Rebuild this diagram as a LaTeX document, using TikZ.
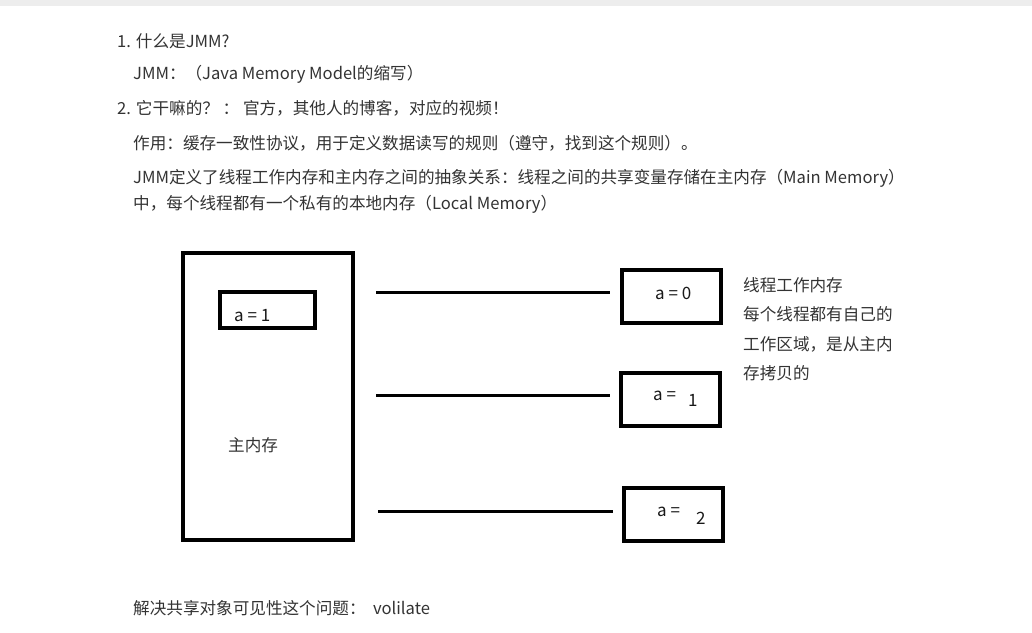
\documentclass[tikz,border=0pt]{standalone}
\usepackage{fontspec}
\setmainfont{Noto Sans CJK SC}
\definecolor{txt}{HTML}{333333}
\definecolor{barbg}{HTML}{EDEDED}
\begin{document}
\begin{tikzpicture}[x=1pt,y=-1pt,
  line/.style={anchor=west,inner sep=0pt,text=txt,font=\fontsize{16.6}{19}\selectfont},
  boxstyle/.style={draw=black,line width=4pt,inner sep=0pt},
  val/.style={inner sep=0pt,text=black!90,font=\fontsize{17}{19}\selectfont},
  link/.style={draw=black,line width=3pt}]
\useasboundingbox (0,0) rectangle (1032,632);
\fill[white] (0,0) rectangle (1032,632);
\fill[barbg] (0,0) rectangle (1032,6);

\node[line] (t1) at (117,41) {1. 什么是JMM?};
\node[line] (t2) at (133,74) {JMM：（Java Memory Model的缩写）};
\node[line] (t3) at (117,108) {2. 它干嘛的？ ： 官方，其他人的博客，对应的视频！};
\node[line] (t4) at (133,143) {作用：缓存一致性协议，用于定义数据读写的规则（遵守，找到这个规则）。};
\node[line] (t5) at (133,178) {JMM定义了线程工作内存和主内存之间的抽象关系：线程之间的共享变量存储在主内存（Main Memory）};
\node[line] (t6) at (133,204) {中，每个线程都有一个私有的本地内存（Local Memory）};

% main memory
\node[boxstyle,minimum width=170pt,minimum height=287pt] (main) at (268,396.5) {};
\node[boxstyle,minimum width=95pt,minimum height=36pt] (inner) at (267.5,310) {};
\node[val,anchor=west] (v0) at (234,316) {a\ =\ 1};
\node[line] (mlabel) at (228,445) {主内存};

% working memory boxes
\node[boxstyle,minimum width=99pt,minimum height=53pt] (r1) at (671.5,296.5) {};
\node[boxstyle,minimum width=99pt,minimum height=53pt] (r2) at (670.5,399.5) {};
\node[boxstyle,minimum width=99pt,minimum height=53pt] (r3) at (673.5,514.5) {};
\node[val,anchor=west] (v1) at (655,293) {a\ =\ 0};
\node[val,anchor=west] (v2a) at (653,396) {a\ =};
\node[val,anchor=west] (v2b) at (688,400) {1};
\node[val,anchor=west] (v3a) at (657,512) {a\ =};
\node[val,anchor=west] (v3b) at (696,518) {2};

% connectors
\coordinate (l1s) at (376,292); \coordinate (l1e) at (610,292);
\coordinate (l2s) at (376,395); \coordinate (l2e) at (610,395);
\coordinate (l3s) at (378,511); \coordinate (l3e) at (613,511);
\draw[link] (l1s) -- (l1e);
\draw[link] (l2s) -- (l2e);
\draw[link] (l3s) -- (l3e);

% note
\node[line] (n1) at (743,285) {线程工作内存};
\node[line] (n2) at (743,314) {每个线程都有自己的};
\node[line] (n3) at (743,344) {工作区域，是从主内};
\node[line] (n4) at (743,373) {存拷贝的};

\node[line] (b1) at (133,608) {解决共享对象可见性这个问题：\ \ volilate};
\end{tikzpicture}
\end{document}
